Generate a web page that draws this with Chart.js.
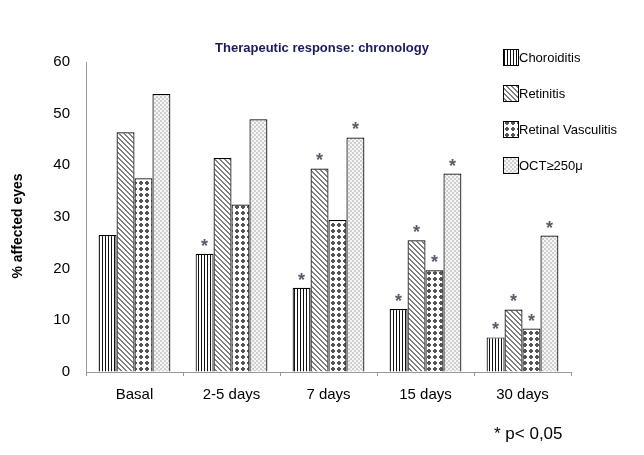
<!DOCTYPE html>
<html>
<head>
<meta charset="utf-8">
<script src="https://cdn.jsdelivr.net/npm/chart.js@4.4.1/dist/chart.umd.min.js"></script>
<style>
    html, body { margin: 0; padding: 0; background: #fff; }
    #wrap { width: 644px; height: 455px; position: relative; }
</style>
</head>
<body>
<div id="wrap"><canvas id="therapyChart"></canvas></div>
<script>
// Data
const categories = ['Basal', '2-5 days', '7 days', '15 days', '30 days'];
const seriesNames = ['Choroiditis', 'Retinitis', 'Retinal Vasculitis', 'OCT\u2265250\u03bc'];
const choroiditis = [26.5, 22.9, 16.3, 12.2, 6.7];
const retinitis = [46.4, 41.4, 39.4, 25.5, 12.1];
const vasculitis = [37.5, 32.4, 29.4, 19.7, 8.4];
const oct250 = [53.8, 48.9, 45.4, 38.4, 26.4];
// p < 0.05 markers (1 = asterisk above bar)
const choroiditisSig = [0, 1, 1, 1, 1];
const retinitisSig = [0, 0, 1, 1, 1];
const vasculitisSig = [0, 0, 0, 1, 1];
const oct250Sig = [0, 0, 1, 1, 1];
const yTicks = [0, 10, 20, 30, 40, 50, 60];

const FONT = "'Liberation Sans', Arial, sans-serif";

// Pattern fills
function makeTile(size, paint) {
    const c = document.createElement('canvas');
    c.width = size; c.height = size;
    const g = c.getContext('2d');
    g.fillStyle = '#fff';
    g.fillRect(0, 0, size, size);
    paint(g, size);
    return c.getContext('2d').createPattern(c, 'repeat');
}

const patVertical = makeTile(3, (g) => {
    g.fillStyle = '#111';
    g.fillRect(0, 0, 1, 3);
});

const patDiagonal = makeTile(5, (g, n) => {
    g.fillStyle = '#808080';
    for (let y = 0; y < n; y++) {
        for (let x = 0; x < n; x++) {
            if (((x - y) % n + n) % n < 2) g.fillRect(x, y, 1, 1);
        }
    }
});

const patDots = makeTile(6, (g) => {
    g.fillStyle = '#555';
    g.fillRect(2, 1, 2, 4);
    g.fillRect(1, 2, 4, 2);
});

const patChecker = makeTile(4, (g) => {
    g.fillStyle = '#f6f6f6';
    g.fillRect(0, 0, 4, 4);
    g.fillStyle = '#cfcfcf';
    g.fillRect(0, 0, 2, 2);
    g.fillRect(2, 2, 2, 2);
});

const fills = [patVertical, patDiagonal, patDots, patChecker];
const sigs = [choroiditisSig, retinitisSig, vasculitisSig, oct250Sig];

// Asterisks, legend, titles and footnote
const extrasPlugin = {
    id: 'extras',
    afterDatasetsDraw(chart) {
        const ctx = chart.ctx;
        ctx.save();
        ctx.fillStyle = '#5a5a6a';
        ctx.font = 'bold 18px ' + FONT;
        ctx.textAlign = 'center';
        ctx.textBaseline = 'alphabetic';
        chart.data.datasets.forEach((ds, i) => {
            const meta = chart.getDatasetMeta(i);
            meta.data.forEach((bar, j) => {
                if (sigs[i][j]) ctx.fillText('*', bar.x, bar.y - 2);
            });
        });
        ctx.restore();
    },
    afterDraw(chart) {
        const ctx = chart.ctx;
        ctx.save();
        // title
        ctx.fillStyle = '#1a1a5c';
        ctx.font = 'bold 13px ' + FONT;
        ctx.textAlign = 'center';
        ctx.textBaseline = 'middle';
        ctx.fillText('Therapeutic response: chronology', 322, 48);
        // y axis title
        ctx.save();
        ctx.translate(18.5, 226);
        ctx.rotate(-Math.PI / 2);
        ctx.fillStyle = '#000';
        ctx.font = 'bold 14px ' + FONT;
        ctx.fillText('% affected eyes', 0, 0);
        ctx.restore();
        // legend
        ctx.textAlign = 'left';
        ctx.font = '13px ' + FONT;
        seriesNames.forEach((name, i) => {
            const cy = 57 + i * 36;
            ctx.fillStyle = fills[i];
            ctx.fillRect(503, cy - 8, 15, 16);
            ctx.strokeStyle = '#000';
            ctx.lineWidth = 1;
            ctx.strokeRect(503.5, cy - 7.5, 15, 16);
            ctx.fillStyle = '#000';
            ctx.fillText(name, 519, cy + 1);
        });
        // footnote
        ctx.font = '17px ' + FONT;
        ctx.fillText('* p< 0,05', 494, 434);
        ctx.restore();
    }
};

const ctx = document.getElementById('therapyChart').getContext('2d');
new Chart(ctx, {
    type: 'bar',
    data: {
        labels: categories,
        datasets: [choroiditis, retinitis, vasculitis, oct250].map((values, i) => ({
            label: seriesNames[i],
            data: values,
            backgroundColor: fills[i],
            borderColor: '#000',
            borderWidth: 1.2,
            borderSkipped: 'bottom',
            categoryPercentage: 0.74,
            barPercentage: 1.0
        }))
    },
    options: {
        responsive: true,
        maintainAspectRatio: false,
        animation: false,
        layout: { padding: { top: 62, right: 73, left: 0, bottom: 0 } },
        plugins: {
            legend: { display: false },
            tooltip: { enabled: false }
        },
        scales: {
            x: {
                afterFit(scale) { scale.height = 83; },
                grid: { offset: true, drawOnChartArea: false, tickLength: 4, color: '#999' },
                border: { color: '#999' },
                ticks: { color: '#000', font: { family: FONT, size: 15 }, padding: 10 }
            },
            y: {
                min: 0,
                max: 60,
                afterFit(scale) { scale.width = 86; },
                afterBuildTicks(scale) { scale.ticks = yTicks.map(v => ({ value: v })); },
                grid: { drawOnChartArea: false, drawTicks: false },
                border: { color: '#999' },
                ticks: { color: '#000', font: { family: FONT, size: 15 }, padding: 16 }
            }
        }
    },
    plugins: [extrasPlugin]
});
</script>
</body>
</html>
